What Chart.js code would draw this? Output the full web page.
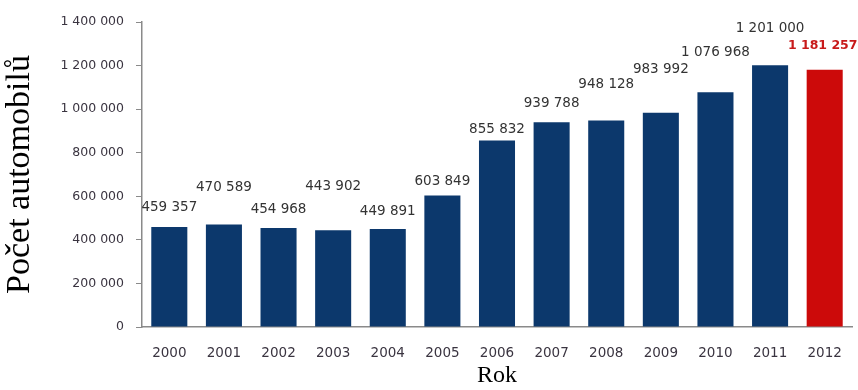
<!DOCTYPE html>
<html>
<head>
<meta charset="utf-8">
<script src="https://cdn.jsdelivr.net/npm/chart.js@4/dist/chart.umd.min.js"></script>
<style>
  html, body { margin: 0; padding: 0; background: #fff; }
  #wrap { width: 858px; height: 390px; }
</style>
</head>
<body>
<div id="wrap"><canvas id="chart"></canvas></div>
<script>
const years = ['2000', '2001', '2002', '2003', '2004', '2005', '2006', '2007', '2008', '2009', '2010', '2011', '2012'];
const cars = [459357, 470589, 454968, 443902, 449891, 603849, 855832, 939788, 948128, 983992, 1076968, 1201000, 1181257];
const yTicks = [0, 200000, 400000, 600000, 800000, 1000000, 1200000, 1400000];

const navy = '#0c386c';
const red = '#cc0a0a';

const spaced = (v) => v.toString().replace(/\B(?=(\d{3})+(?!\d))/g, ' ');

// how far each value label sits above its bar top (px), like the original layout
const labelLift = [19, 37, 18, 44, 17, 14, 11, 19, 36, 43, 40, 37, 24];

const valueLabels = {
  id: 'valueLabels',
  afterDatasetsDraw(chart) {
    const { ctx } = chart;
    const meta = chart.getDatasetMeta(0);
    ctx.save();
    ctx.textAlign = 'center';
    ctx.textBaseline = 'middle';
    meta.data.forEach((bar, i) => {
      const last = i === cars.length - 1;
      ctx.font = last ? 'bold 12.5px "DejaVu Sans"' : '13.5px "DejaVu Sans"';
      ctx.fillStyle = last ? '#c81a1a' : '#333333';
      ctx.fillText(spaced(cars[i]), bar.x - (last ? 2 : 0), bar.y - labelLift[i]);
    });
    ctx.restore();
  },
};

const ctx = document.getElementById('chart').getContext('2d');
new Chart(ctx, {
  type: 'bar',
  data: {
    labels: years,
    datasets: [{
      data: cars,
      backgroundColor: cars.map((_, i) => (i === cars.length - 1 ? red : navy)),
      borderWidth: 0,
      categoryPercentage: 1,
      barPercentage: 0.66,
    }],
  },
  options: {
    responsive: true,
    maintainAspectRatio: false,
    animation: false,
    layout: { padding: { top: 22, right: 6, bottom: 0, left: 0 } },
    plugins: {
      legend: { display: false },
      tooltip: { enabled: false },
    },
    scales: {
      x: {
        grid: { display: false },
        border: { display: true, color: '#8a8a8a', width: 1.5 },
        ticks: {
          color: '#3a3440',
          font: { family: 'DejaVu Sans', size: 13.5 },
          padding: 10,
        },
        title: {
          display: true,
          text: 'Rok',
          color: '#000',
          font: { family: 'Liberation Serif', size: 24 },
          padding: { top: 0, bottom: 0 },
        },
        afterFit(scale) { scale.height = 63; },
      },
      y: {
        min: 0,
        max: 1400000,
        afterBuildTicks(scale) { scale.ticks = yTicks.map((v) => ({ value: v })); },
        grid: { display: true, drawOnChartArea: false, drawTicks: true, tickLength: 6, color: '#8a8a8a' },
        border: { display: true, color: '#8a8a8a', width: 1.5 },
        ticks: {
          color: '#3a3440',
          font: { family: 'DejaVu Sans', size: 12.5 },
          padding: 12,
          callback: (v) => spaced(v),
        },
        title: {
          display: true,
          text: 'Počet automobilů',
          color: '#000',
          font: { family: 'Liberation Serif', size: 34 },
          padding: { top: 0, bottom: 0 },
        },
        afterFit(scale) { scale.width = 142; },
      },
    },
  },
  plugins: [valueLabels],
});
</script>
</body>
</html>
